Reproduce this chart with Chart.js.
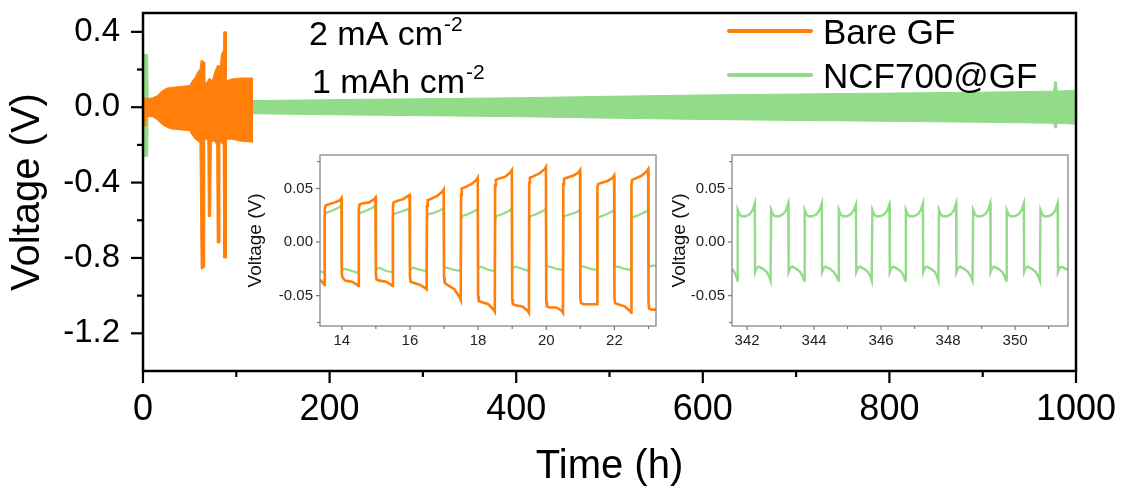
<!DOCTYPE html>
<html><head><meta charset="utf-8">
<script src="https://cdn.jsdelivr.net/npm/chart.js@4.4.1/dist/chart.umd.min.js"></script>
<style>
html,body{margin:0;padding:0;background:#fff;}
#wrap{position:relative;width:1123px;height:491px;overflow:hidden;background:#fff;}
canvas{position:absolute;}
</style></head><body>
<div id="wrap">
<canvas id="main" width="1123" height="491" style="left:0;top:0;width:1123px;height:491px"></canvas>
<canvas id="in1" width="435" height="210" style="left:230px;top:150px;width:435px;height:210px"></canvas>
<canvas id="in2" width="435" height="210" style="left:640px;top:150px;width:435px;height:210px"></canvas>
</div>
<script>
// ---------------- data ----------------
const seriesNames = ['Bare GF', 'NCF700@GF'];
const seriesColors = ['#FF7F0A', '#92DB88'];

// main panel: envelope (upper / lower voltage) of the dense cycling trace
const bareTime  = [0, 0.5, 3, 3.5, 10, 15, 20, 25, 30, 40, 50, 53, 56, 59, 61, 62.3, 62.8, 65.5, 66.2, 68, 69.5, 70, 72.5, 73.3, 75, 77, 79, 79.5, 82, 82.5, 84, 86, 86.5, 89, 89.5, 95, 105, 117, 118];
const bareUpper = [0.00, 0.05, 0.05, 0.045, 0.05, 0.06, 0.085, 0.10, 0.105, 0.11, 0.115, 0.14, 0.16, 0.19, 0.20, 0.25, 0.25, 0.24, 0.13, 0.13, 0.14, 0.15, 0.15, 0.14, 0.15, 0.19, 0.21, 0.22, 0.22, 0.18, 0.28, 0.30, 0.40, 0.40, 0.14, 0.15, 0.155, 0.155, 0.155];
const bareLower = [0.00, -0.10, -0.10, -0.05, -0.05, -0.065, -0.09, -0.105, -0.115, -0.12, -0.125, -0.15, -0.17, -0.18, -0.19, -0.85, -0.86, -0.85, -0.17, -0.17, -0.18, -0.58, -0.58, -0.18, -0.18, -0.18, -0.20, -0.72, -0.72, -0.18, -0.19, -0.20, -0.80, -0.80, -0.17, -0.17, -0.18, -0.185, -0.185];

const ncfTime  = [0, 0.3, 5, 5.6, 120, 200, 300, 400, 500, 600, 700, 800, 900, 976, 977, 979, 980, 1000];
const ncfUpper = [0, 0.28, 0.28, 0.03, 0.035, 0.04, 0.045, 0.05, 0.058, 0.065, 0.07, 0.075, 0.08, 0.085, 0.135, 0.135, 0.085, 0.09];
const ncfLower = [0, -0.26, -0.26, -0.03, -0.035, -0.04, -0.045, -0.05, -0.058, -0.065, -0.07, -0.075, -0.08, -0.085, -0.11, -0.11, -0.085, -0.09];

const mainXTicks = [0, 200, 400, 600, 800, 1000];
const mainXLabels = ['0', '200', '400', '600', '800', '1000'];
const mainXMinor = [100, 300, 500, 700, 900];
const mainYTicks = [0.4, 0.0, -0.4, -0.8, -1.2];
const mainYLabels = ['0.4', '0.0', '-0.4', '-0.8', '-1.2'];
const mainYMinor = [0.2, -0.2, -0.6, -1.0];

// inset 1: 13–23 h, both cells
const inset1BareTime = [13.36,13.45,13.49,
 13.50,13.52,13.60,13.80,13.95,13.99, 14.00,14.02,14.10,14.30,14.45,14.49,
 14.50,14.52,14.60,14.80,14.95,14.99, 15.00,15.02,15.10,15.30,15.45,15.49,
 15.50,15.52,15.60,15.80,15.95,15.99, 16.00,16.02,16.10,16.30,16.45,16.49,
 16.50,16.52,16.60,16.80,16.95,16.99, 17.00,17.02,17.10,17.30,17.45,17.49,
 17.50,17.52,17.60,17.80,17.95,17.99, 18.00,18.02,18.10,18.30,18.45,18.49,
 18.50,18.52,18.60,18.80,18.95,18.99, 19.00,19.02,19.10,19.30,19.45,19.49,
 19.50,19.52,19.60,19.80,19.95,19.99, 20.00,20.02,20.10,20.30,20.45,20.49,
 20.50,20.52,20.60,20.80,20.95,20.99, 21.00,21.02,21.10,21.30,21.45,21.49,
 21.50,21.52,21.60,21.80,21.95,21.99, 22.00,22.02,22.10,22.30,22.45,22.49,
 22.50,22.52,22.60,22.80,22.95,22.99, 23.00,23.02,23.10,23.22];
const inset1BareV = [-0.035,-0.038,-0.040,
 0.030,0.034,0.035,0.037,0.039,0.041, -0.030,-0.033,-0.036,-0.037,-0.040,-0.041,
 0.030,0.035,0.036,0.037,0.040,0.0415, -0.030,-0.035,-0.036,-0.037,-0.040,-0.041,
 0.032,0.037,0.038,0.040,0.043,0.044, -0.032,-0.037,-0.038,-0.040,-0.043,-0.044,
 0.034,0.039,0.040,0.043,0.047,0.049, -0.033,-0.038,-0.040,-0.044,-0.051,-0.054,
 0.044,0.050,0.051,0.054,0.058,0.060, -0.050,-0.055,-0.056,-0.058,-0.063,-0.065,
 0.053,0.058,0.059,0.061,0.065,0.067, -0.053,-0.058,-0.059,-0.060,-0.064,-0.066,
 0.055,0.060,0.061,0.064,0.068,0.070, -0.055,-0.060,-0.061,-0.061,-0.064,-0.066,
 0.054,0.059,0.060,0.062,0.065,0.067, -0.052,-0.057,-0.058,-0.058,-0.058,-0.058,
 0.050,0.054,0.055,0.057,0.060,0.062, -0.052,-0.057,-0.058,-0.060,-0.064,-0.066,
 0.053,0.058,0.059,0.062,0.066,0.068, -0.057,-0.062,-0.063,-0.063];

const inset1NcfTime = [13.36,13.49,
 13.50,13.52,13.70,13.90,13.99, 14.00,14.03,14.10,14.30,14.49,
 14.50,14.52,14.70,14.90,14.99, 15.00,15.03,15.10,15.30,15.49,
 15.50,15.52,15.70,15.90,15.99, 16.00,16.03,16.10,16.30,16.49,
 16.50,16.52,16.70,16.90,16.99, 17.00,17.03,17.10,17.30,17.49,
 17.50,17.52,17.70,17.90,17.99, 18.00,18.03,18.10,18.30,18.49,
 18.50,18.52,18.70,18.90,18.99, 19.00,19.03,19.10,19.30,19.49,
 19.50,19.52,19.70,19.90,19.99, 20.00,20.03,20.10,20.30,20.49,
 20.50,20.52,20.70,20.90,20.99, 21.00,21.03,21.10,21.30,21.49,
 21.50,21.52,21.70,21.90,21.99, 22.00,22.03,22.10,22.30,22.49,
 22.50,22.52,22.70,22.90,22.99, 23.00,23.03,23.10,23.22];
const inset1NcfV = [-0.027,-0.029,
 0.025,0.027,0.029,0.032,0.034, -0.024,-0.026,-0.025,-0.027,-0.029,
 0.025,0.027,0.029,0.032,0.034, -0.023,-0.025,-0.024,-0.027,-0.028,
 0.024,0.026,0.028,0.030,0.032, -0.023,-0.025,-0.024,-0.026,-0.027,
 0.024,0.026,0.027,0.030,0.032, -0.022,-0.024,-0.024,-0.026,-0.027,
 0.022,0.024,0.026,0.029,0.031, -0.022,-0.024,-0.023,-0.026,-0.027,
 0.022,0.024,0.026,0.029,0.031, -0.022,-0.024,-0.023,-0.025,-0.027,
 0.022,0.024,0.026,0.029,0.031, -0.021,-0.023,-0.023,-0.025,-0.026,
 0.022,0.024,0.026,0.028,0.030, -0.021,-0.023,-0.023,-0.025,-0.026,
 0.021,0.023,0.025,0.028,0.030, -0.021,-0.023,-0.023,-0.025,-0.026,
 0.021,0.023,0.025,0.028,0.030, -0.021,-0.023,-0.022,-0.022];

// inset 2: 341.5–351.6 h, NCF700@GF only
const inset2NcfTime = [341.55,341.62,341.68,341.71,
 341.72,341.77,341.83,341.96,342.08,342.17,342.23, 342.24,342.29,342.35,342.47,342.59,342.66,342.70,
 342.72,342.77,342.83,342.96,343.08,343.17,343.23, 343.24,343.29,343.35,343.47,343.59,343.66,343.70,
 343.72,343.77,343.83,343.96,344.08,344.17,344.23, 344.24,344.29,344.35,344.47,344.59,344.67,344.72,
 344.74,344.79,344.85,344.98,345.10,345.19,345.25, 345.26,345.31,345.37,345.49,345.61,345.68,345.72,
 345.74,345.79,345.85,345.98,346.10,346.19,346.25, 346.26,346.31,346.37,346.49,346.61,346.68,346.72,
 346.74,346.79,346.85,346.98,347.10,347.19,347.25, 347.26,347.31,347.37,347.49,347.61,347.67,347.71,
 347.73,347.78,347.84,347.97,348.09,348.18,348.24, 348.25,348.30,348.36,348.48,348.60,348.68,348.73,
 348.75,348.80,348.86,348.99,349.11,349.20,349.26, 349.27,349.32,349.38,349.50,349.62,349.69,349.73,
 349.75,349.80,349.86,349.99,350.11,350.20,350.26, 350.27,350.32,350.38,350.50,350.62,350.69,350.74,
 350.76,350.81,350.87,351.00,351.12,351.21,351.27, 351.28,351.33,351.39,351.51,351.58];
const inset2NcfV = [-0.025,-0.028,-0.032,-0.036,
 0.030,0.026,0.024,0.024,0.026,0.030,0.036, -0.028,-0.024,-0.023,-0.025,-0.028,-0.032,-0.036,
 0.030,0.026,0.024,0.024,0.026,0.030,0.036, -0.028,-0.024,-0.023,-0.025,-0.028,-0.032,-0.036,
 0.030,0.026,0.024,0.024,0.026,0.030,0.036, -0.028,-0.024,-0.023,-0.025,-0.028,-0.032,-0.036,
 0.030,0.026,0.024,0.024,0.026,0.030,0.035, -0.028,-0.024,-0.023,-0.025,-0.028,-0.032,-0.036,
 0.030,0.026,0.024,0.024,0.026,0.030,0.035, -0.028,-0.024,-0.023,-0.025,-0.028,-0.032,-0.036,
 0.030,0.026,0.024,0.024,0.026,0.030,0.036, -0.028,-0.024,-0.023,-0.025,-0.028,-0.032,-0.036,
 0.030,0.026,0.024,0.024,0.026,0.030,0.036, -0.028,-0.024,-0.023,-0.025,-0.028,-0.032,-0.036,
 0.030,0.026,0.024,0.024,0.026,0.030,0.036, -0.028,-0.024,-0.023,-0.025,-0.028,-0.032,-0.036,
 0.030,0.026,0.024,0.024,0.026,0.030,0.036, -0.028,-0.024,-0.023,-0.025,-0.028,-0.032,-0.036,
 0.030,0.026,0.024,0.024,0.026,0.030,0.036, -0.028,-0.024,-0.023,-0.025,-0.026];

const insetYTicks = [0.05, 0.00, -0.05];
const insetYLabels = ['0.05', '0.00', '-0.05'];
const insetYMinor = [0.075, -0.075];
const inset1XTicks = [14, 16, 18, 20, 22];
const inset1XLabels = ['14', '16', '18', '20', '22'];
const inset1XMinor = [15, 17, 19, 21, 23];
const inset2XTicks = [342, 344, 346, 348, 350];
const inset2XLabels = ['342', '344', '346', '348', '350'];
const inset2XMinor = [343, 345, 347, 349, 351];

const annotLines = [['2 mA cm', '-2'], ['1 mAh cm', '-2']];
const axisTitles = {x: 'Time (h)', y: 'Voltage (V)'};

// ---------------- rendering ----------------
const FONT = "'Liberation Sans', Arial, Helvetica, sans-serif";
Chart.defaults.font.family = FONT;
Chart.defaults.color = '#000';
const pts = (xs, ys) => xs.map((x, i) => ({x: x, y: ys[i]}));
const noPad = s => { s.paddingLeft = 0; s.paddingRight = 0; s.paddingTop = 0; s.paddingBottom = 0; };

function tickFramePlugin(o) {
  return {
    id: 'tickFrame',
    beforeDraw(chart) {
      if (!o.bg) return;
      const a = chart.chartArea, c = chart.ctx;
      c.save(); c.fillStyle = o.bg; c.fillRect(a.left, a.top, a.width, a.height); c.restore();
    },
    afterDraw(chart) {
      const c = chart.ctx, a = chart.chartArea, xs = chart.scales.x, ys = chart.scales.y;
      c.save();
      c.strokeStyle = o.tickColor; c.lineWidth = o.tickWidth; c.lineCap = 'butt';
      const seg = (x1, y1, x2, y2) => { c.beginPath(); c.moveTo(x1, y1); c.lineTo(x2, y2); c.stroke(); };
      o.xMajor.forEach(v => { const p = xs.getPixelForValue(v); seg(p, a.bottom, p, a.bottom + o.majorLen); });
      o.xMinor.forEach(v => { const p = xs.getPixelForValue(v); seg(p, a.bottom, p, a.bottom + o.minorLen); });
      o.yMajor.forEach(v => { const p = ys.getPixelForValue(v); seg(a.left, p, a.left - o.majorLen, p); });
      o.yMinor.forEach(v => { const p = ys.getPixelForValue(v); seg(a.left, p, a.left - o.minorLen, p); });
      c.strokeStyle = o.frameColor; c.lineWidth = o.frameWidth;
      c.strokeRect(a.left, a.top, a.width, a.height);
      c.restore();
    }
  };
}

const textPlugin = {
  id: 'texts',
  afterDraw(chart) {
    const c = chart.ctx;
    c.save();
    c.fillStyle = '#000'; c.textBaseline = 'alphabetic'; c.textAlign = 'left';
    const annPos = [[309, 45], [312, 93]];
    annotLines.forEach((ln, i) => {
      c.font = '34px ' + FONT;
      c.fillText(ln[0], annPos[i][0], annPos[i][1]);
      const w = c.measureText(ln[0]).width;
      c.font = '21px ' + FONT;
      c.fillText(ln[1], annPos[i][0] + w + 1, annPos[i][1] - 14);
    });
    const legY = [31, 75];
    seriesNames.forEach((nm, i) => {
      c.strokeStyle = seriesColors[i]; c.lineWidth = 4; c.lineCap = 'round';
      c.beginPath(); c.moveTo(729, legY[i]); c.lineTo(811, legY[i]); c.stroke();
      c.font = '35px ' + FONT;
      c.fillText(nm, 823, legY[i] + 12.5);
    });
    c.restore();
  }
};

new Chart(document.getElementById('main'), {
  type: 'line',
  data: {
    datasets: [
      {label: seriesNames[0] + ' max', data: pts(bareTime, bareUpper), borderColor: seriesColors[0], backgroundColor: seriesColors[0], borderWidth: 1, pointRadius: 0, fill: false, tension: 0},
      {label: seriesNames[0] + ' min', data: pts(bareTime, bareLower), borderColor: seriesColors[0], backgroundColor: seriesColors[0], borderWidth: 1, pointRadius: 0, fill: '-1', tension: 0},
      {label: seriesNames[1] + ' max', data: pts(ncfTime, ncfUpper), borderColor: seriesColors[1], backgroundColor: seriesColors[1], borderWidth: 1, pointRadius: 0, fill: false, tension: 0},
      {label: seriesNames[1] + ' min', data: pts(ncfTime, ncfLower), borderColor: seriesColors[1], backgroundColor: seriesColors[1], borderWidth: 1, pointRadius: 0, fill: '-1', tension: 0}
    ]
  },
  options: {
    responsive: false, animation: false, devicePixelRatio: 1,
    layout: {padding: {left: 0, top: 13, right: 47, bottom: 0}},
    plugins: {legend: {display: false}, tooltip: {enabled: false}},
    scales: {
      x: {
        type: 'linear', min: 0, max: 1000,
        afterBuildTicks: s => { s.ticks = mainXTicks.map(v => ({value: v})); },
        afterFit: s => { s.height = 120; noPad(s); },
        grid: {display: false, drawTicks: false},
        border: {display: false},
        ticks: {font: {size: 36}, color: '#000', padding: 17, maxRotation: 0, autoSkip: false,
          callback: (v, i) => mainXLabels[i]},
        title: {display: true, text: axisTitles.x, font: {size: 40}, color: '#000', padding: {top: 0, bottom: 0}}
      },
      y: {
        type: 'linear', min: -1.4, max: 0.5,
        afterBuildTicks: s => { s.ticks = mainYTicks.map(v => ({value: v})); },
        afterFit: s => { s.width = 143; noPad(s); },
        grid: {display: false, drawTicks: false},
        border: {display: false},
        ticks: {font: {size: 33}, color: '#000', padding: 23, autoSkip: false,
          callback: (v, i) => mainYLabels[i]},
        title: {display: true, text: axisTitles.y, font: {size: 40}, color: '#000', padding: {top: 4, bottom: 0}}
      }
    }
  },
  plugins: [tickFramePlugin({xMajor: mainXTicks, xMinor: mainXMinor, yMajor: mainYTicks, yMinor: mainYMinor,
    majorLen: 12, minorLen: 6, tickColor: '#000', tickWidth: 2.2, frameColor: '#000', frameWidth: 2.5}), textPlugin]
});

function makeInset(id, datasets, xmin, xmax, xt, xl, xm, yWidth, padRight, titlePad) {
  new Chart(document.getElementById(id), {
    type: 'line',
    data: {datasets: datasets},
    options: {
      responsive: false, animation: false, devicePixelRatio: 1,
      layout: {padding: {left: 0, top: 5, right: padRight, bottom: 0}},
      plugins: {legend: {display: false}, tooltip: {enabled: false}},
      scales: {
        x: {
          type: 'linear', min: xmin, max: xmax,
          afterBuildTicks: s => { s.ticks = xt.map(v => ({value: v})); },
          afterFit: s => { s.height = 34; noPad(s); },
          grid: {display: false, drawTicks: false}, border: {display: false},
          ticks: {font: {size: 15}, color: '#222', padding: 6, maxRotation: 0, autoSkip: false,
            callback: (v, i) => xl[i]}
        },
        y: {
          type: 'linear', min: -0.0783, max: 0.0812,
          afterBuildTicks: s => { s.ticks = insetYTicks.map(v => ({value: v})); },
          afterFit: s => { s.width = yWidth; noPad(s); },
          grid: {display: false, drawTicks: false}, border: {display: false},
          ticks: {font: {size: 15}, color: '#222', padding: 7, autoSkip: false,
            callback: (v, i) => insetYLabels[i]},
          title: {display: true, text: axisTitles.y, font: {size: 19}, color: '#111', padding: {top: titlePad, bottom: 0}}
        }
      }
    },
    plugins: [tickFramePlugin({bg: '#fff', xMajor: xt, xMinor: xm, yMajor: insetYTicks, yMinor: insetYMinor,
      majorLen: 4, minorLen: 3, tickColor: '#777', tickWidth: 1.2, frameColor: '#888', frameWidth: 1.3})]
  });
}

makeInset('in1', [
  {label: seriesNames[0], data: pts(inset1BareTime, inset1BareV), borderColor: seriesColors[0], borderWidth: 2.6, pointRadius: 0, tension: 0, fill: false},
  {label: seriesNames[1], data: pts(inset1NcfTime, inset1NcfV), borderColor: seriesColors[1], borderWidth: 2.2, pointRadius: 0, tension: 0, fill: false}
], 13.36, 23.22, inset1XTicks, inset1XLabels, inset1XMinor, 90, 9, 14);

makeInset('in2', [
  {label: seriesNames[1], data: pts(inset2NcfTime, inset2NcfV), borderColor: seriesColors[1], borderWidth: 2.4, pointRadius: 0, tension: 0, fill: false}
], 341.55, 351.58, inset2XTicks, inset2XLabels, inset2XMinor, 92, 7, 28);
</script>
</body></html>
